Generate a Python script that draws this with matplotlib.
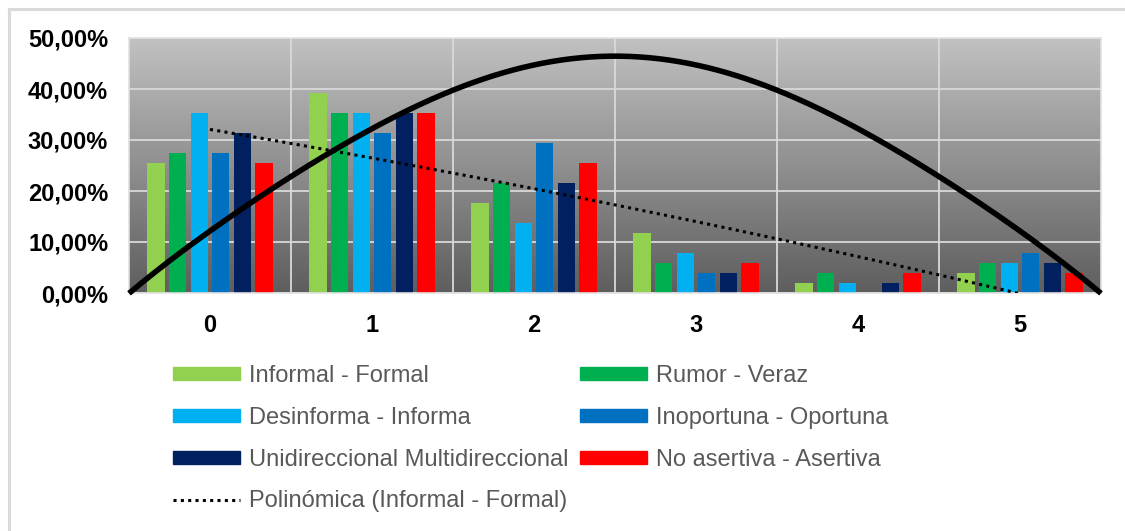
import numpy as np
import matplotlib
matplotlib.use("Agg")
import matplotlib.pyplot as plt
from matplotlib.colors import LinearSegmentedColormap
from matplotlib.ticker import FuncFormatter, FixedLocator
from matplotlib.patches import Patch
from matplotlib.lines import Line2D

plt.rcParams['font.family'] = ['Liberation Sans', 'DejaVu Sans']

# valores (%)
categorias = [0, 1, 2, 3, 4, 5]
informal_formal = [25.49, 39.22, 17.65, 11.76, 1.96, 3.92]
rumor_veraz = [27.45, 35.29, 21.57, 5.88, 3.92, 5.88]
desinforma_informa = [35.29, 35.29, 13.73, 7.84, 1.96, 5.88]
inoportuna_oportuna = [27.45, 31.37, 29.41, 3.92, 0.0, 7.84]
unidir_multidir = [31.37, 35.29, 21.57, 3.92, 1.96, 5.88]
noasertiva_asertiva = [25.49, 35.29, 25.49, 5.88, 3.92, 3.92]

series = [
    ("Informal - Formal", informal_formal, "#92D050"),
    ("Rumor - Veraz", rumor_veraz, "#00B050"),
    ("Desinforma - Informa", desinforma_informa, "#00B0F0"),
    ("Inoportuna - Oportuna", inoportuna_oportuna, "#0070C0"),
    ("Unidireccional Multidireccional", unidir_multidir, "#002060"),
    ("No asertiva - Asertiva", noasertiva_asertiva, "#FF0000"),
]

# curva negra gruesa, leida cada media categoria desde -0.5 hasta 5.5
curva = [0.0, 11.8, 23.5, 31.8, 39.7, 44.6, 46.9, 44.6, 39.7, 31.8, 23.5, 11.8, 0.0]

fig = plt.figure(figsize=(11.25, 5.31), dpi=100)
ax = fig.add_axes([129 / 1125, 1 - 293 / 531, (1101 - 129) / 1125, (293 - 38) / 531])

x = np.array(categorias, dtype=float)
xmin, xmax = x[0] - 0.5, x[-1] + 0.5

# fondo degradado
cmap = LinearSegmentedColormap.from_list("fondo", ["#5e5e5e", "#c1c1c1"])
grad = np.linspace(0, 1, 256).reshape(-1, 1)
ax.imshow(grad, extent=[xmin, xmax, 0, 50], origin="lower", aspect="auto",
          cmap=cmap, zorder=0)

pitch = 0.133
width = 0.107
n = len(series)
for i, (nombre, vals, color) in enumerate(series):
    ax.bar(x + (i - (n - 1) / 2) * pitch, vals, width, color=color,
           label=nombre, zorder=2)

# tendencia polinomica (Informal - Formal)
coef = np.polyfit(x, informal_formal, 2)
xt = np.linspace(x[0], x[-1], 200)
ax.plot(xt, np.polyval(coef, xt), color="black", lw=2.2,
        linestyle=(0, (1, 1.4)), zorder=4)

# curva gruesa
xc = np.arange(len(curva)) * 0.5 + xmin
cc = np.polyfit(xc, curva, 6)
xs = np.linspace(xmin, xmax, 300)
ax.plot(xs, np.polyval(cc, xs), color="black", lw=4, zorder=5,
        solid_capstyle="butt", clip_on=False)

ax.set_xlim(xmin, xmax)
ax.set_ylim(0, 50)
ax.set_xticks(x)
ax.set_xticklabels([str(c) for c in categorias])
ax.xaxis.set_minor_locator(FixedLocator(x[:-1] + 0.5))
ax.set_yticks(np.arange(0, 51, 10))
ax.yaxis.set_major_formatter(FuncFormatter(lambda v, p: f"{v:.2f}%".replace(".", ",")))
ax.tick_params(axis="both", which="both", length=0, labelsize=17)
ax.tick_params(axis="y", pad=15)
ax.tick_params(axis="x", pad=15)
for lab in ax.get_xticklabels() + ax.get_yticklabels():
    lab.set_fontweight("bold")

ax.set_axisbelow(True)
ax.grid(axis="y", which="major", color="#d9d9d9", lw=1.3)
ax.grid(axis="x", which="minor", color="#d9d9d9", lw=1.3)
for s in ax.spines.values():
    s.set_color("#e0e0e0")
    s.set_linewidth(1.2)

# leyenda en dos columnas
h = [Patch(color=c) for _, _, c in series]
lab = [nm for nm, _, _ in series]
trend = Line2D([], [], color="black", lw=2.2, linestyle=(0, (1, 1.4)))
kw = dict(frameon=False, fontsize=17, labelcolor="#595959", handlelength=2.85,
          handletextpad=0.38, handleheight=0.45, labelspacing=0.84,
          borderpad=0, borderaxespad=0, loc="upper left")
leg1 = fig.legend([h[0], h[2], h[4], trend],
                  [lab[0], lab[2], lab[4], "Polinómica (Informal - Formal)"],
                  bbox_to_anchor=(173 / 1125, 1 - 365 / 531), **kw)
leg2 = fig.legend([h[1], h[3], h[5]], [lab[1], lab[3], lab[5]],
                  bbox_to_anchor=(580 / 1125, 1 - 365 / 531), **kw)

# borde del grafico
fig.add_artist(Line2D([9 / 1125, 9 / 1125], [0, 1 - 9 / 531],
                      transform=fig.transFigure, color="#d9d9d9", lw=2.2))
fig.add_artist(Line2D([9 / 1125, 1], [1 - 9 / 531, 1 - 9 / 531],
                      transform=fig.transFigure, color="#d9d9d9", lw=2.2))

fig.savefig("out.png", dpi=100)
